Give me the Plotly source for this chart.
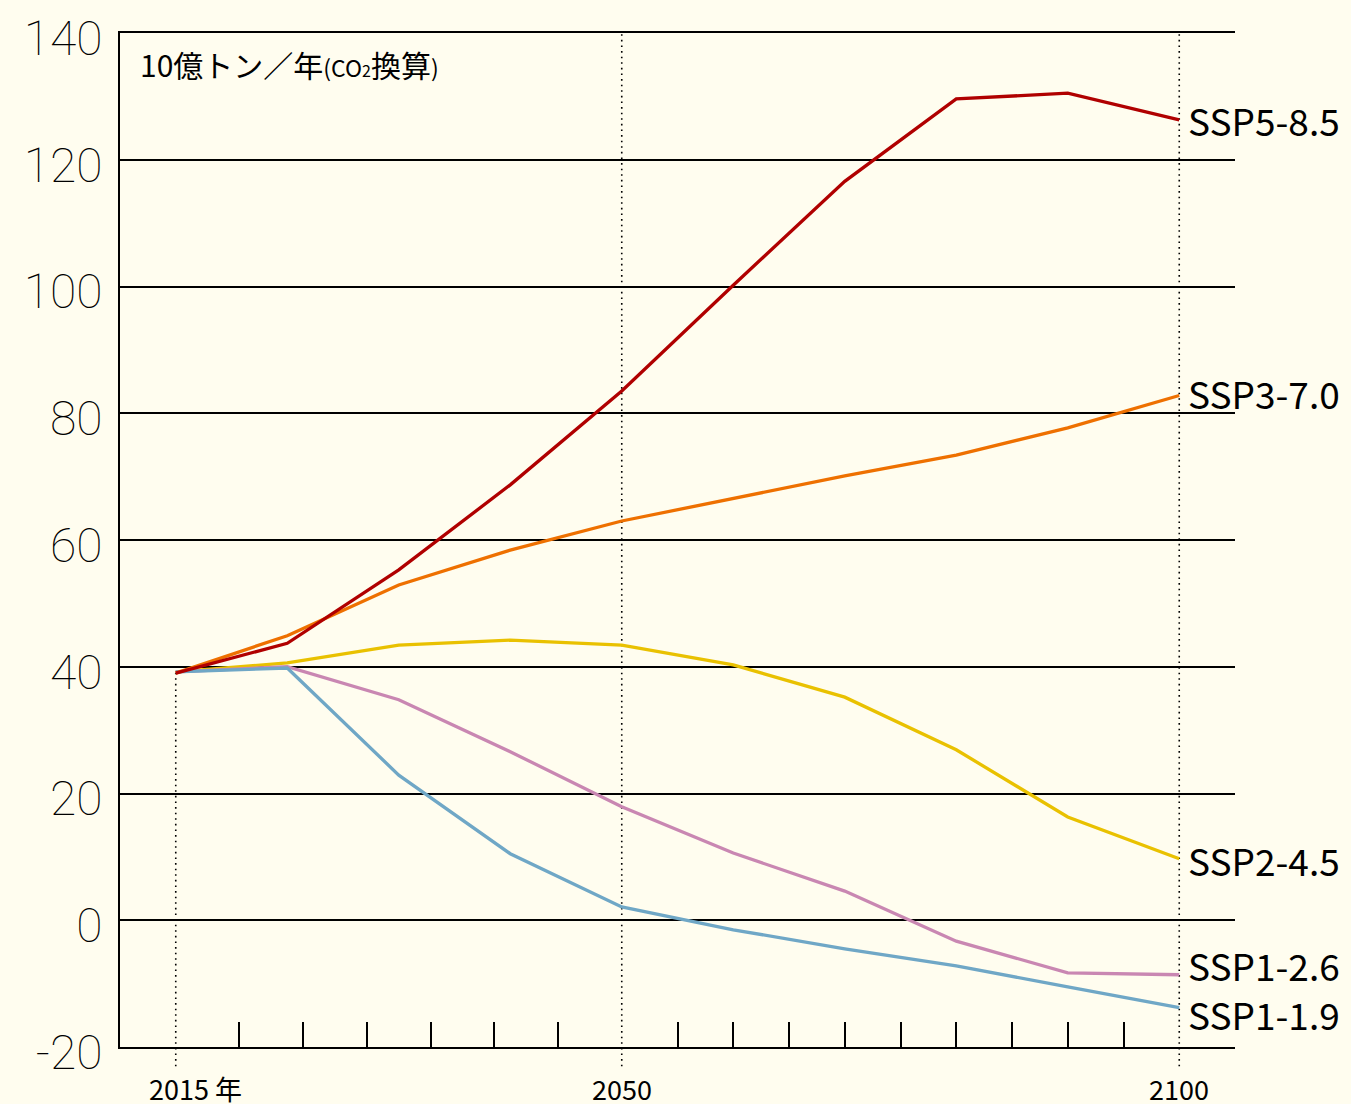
import plotly.graph_objects as go

years = [2015, 2020, 2030, 2040, 2050, 2060, 2070, 2080, 2090, 2100]
ssp585 = [39.0, 43.7, 55.3, 68.7, 83.5, 100.2, 116.6, 129.6, 130.5, 126.3]
ssp370 = [39.0, 44.9, 52.9, 58.4, 63.0, 66.5, 70.1, 73.4, 77.7, 82.8]
ssp245 = [39.2, 40.6, 43.4, 44.2, 43.4, 40.3, 35.2, 26.9, 16.3, 9.7]
ssp126 = [39.2, 40.0, 34.8, 26.6, 17.9, 10.6, 4.6, -3.3, -8.3, -8.6]
ssp119 = [39.2, 39.8, 22.9, 10.5, 2.1, -1.5, -4.5, -7.2, -10.5, -13.8]

series_names = ["SSP2-4.5", "SSP1-2.6", "SSP1-1.9", "SSP3-7.0", "SSP5-8.5"]
series_values = [ssp245, ssp126, ssp119, ssp370, ssp585]
series_colors = ["#E9C100", "#C987B2", "#6FA7C6", "#EE7000", "#B00000"]
label_yshift = [-1, 10, -6, 3, 0]

y_ticks = [-20, 0, 20, 40, 60, 80, 100, 120, 140]
labeled_years = [2015, 2050, 2100]
labeled_text = ["2015 年", "2050", "2100"]

BG = "#FFFDEF"
xpos = list(range(len(years)))
i2050 = years.index(2050)
n = len(years) - 1

# decorative minor ticks: 7 intervals to 2050, 10 intervals 2050-2100
minor = [i2050 * k / 7 for k in range(1, 7)] + [i2050 + (n - i2050) * k / 10 for k in range(1, 10)]

fig = go.Figure()
for name, vals, col in zip(series_names, series_values, series_colors):
    fig.add_trace(go.Scatter(x=xpos, y=vals, mode="lines", name=name,
                             line=dict(color=col, width=3.3), showlegend=False,
                             hoverinfo="skip"))

ymin, ymax = y_ticks[0], y_ticks[-1]


def ypaper(v):
    return (v - ymin) / (ymax - ymin)


shapes = []
for yr in labeled_years:
    i = years.index(yr)
    top = ypaper(min(s[0] for s in series_values)) if i == 0 else 1.0
    shapes.append(dict(type="line", xref="x", yref="paper", x0=i, x1=i,
                       y0=-0.019, y1=top, line=dict(color="black", width=1.6, dash="1.6px,4px"),
                       layer="below"))

annotations = []
for name, vals, col, ys in zip(series_names, series_values, series_colors, label_yshift):
    annotations.append(dict(x=xpos[-1], y=vals[-1], xref="x", yref="y", text=name,
                            showarrow=False, xanchor="left", yanchor="middle",
                            xshift=7, yshift=ys,
                            font=dict(family="Noto Sans CJK JP", size=37, color="black")))

for yr, txt in zip(labeled_years, labeled_text):
    i = years.index(yr)
    annotations.append(dict(x=i, y=-0.041, xref="x", yref="paper", text=txt,
                            showarrow=False, xanchor="left" if i == 0 else "center",
                            yanchor="middle", xshift=-29 if i == 0 else 0,
                            font=dict(family="Liberation Sans Narrow, Noto Sans CJK JP", size=27, color="black")))

annotations.append(dict(x=0.016, y=0.969, xref="paper", yref="paper",
                        text=("10億トン／年<span style='font-size:23px'>(CO</span>"
                              "<span style='font-size:16px'>2</span>換算"
                              "<span style='font-size:23px'>)</span>"),
                        showarrow=False, xanchor="left", yanchor="middle",
                        font=dict(family="Noto Sans CJK JP", size=30, color="black", weight=400)))

fig.update_layout(
    width=1351, height=1104,
    margin=dict(l=120, r=116, t=33, b=57, autoexpand=False),
    paper_bgcolor=BG, plot_bgcolor=BG,
    shapes=shapes, annotations=annotations,
    xaxis=dict(range=[-0.5, n + 0.5], tickmode="array", tickvals=minor,
               ticktext=["" for _ in minor], ticks="inside", ticklen=25,
               tickwidth=1.5, tickcolor="black", showgrid=False, zeroline=False,
               showline=True, mirror=True, linecolor="black", linewidth=1.5,
               automargin=False),
    yaxis=dict(range=[ymin, ymax], tickmode="array", tickvals=y_ticks,
               ticktext=[str(v) for v in y_ticks], showgrid=True, gridcolor="black",
               gridwidth=1.5, zeroline=False, showline=True, linecolor="black",
               linewidth=1.5, ticks="", ticklabelstandoff=6, ticklabelshift=5,
               automargin=False,
               tickfont=dict(family="Roboto, Lato, sans-serif", size=48, color="black", weight=100)),
)

fig.write_html("out.html", config={"displayModeBar": False},
               post_script="document.body.style.margin='0';document.body.style.overflow='hidden';")
